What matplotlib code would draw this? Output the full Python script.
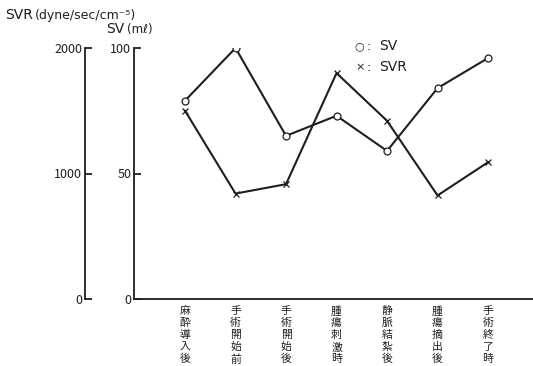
import matplotlib
matplotlib.use("Agg")
import matplotlib.pyplot as plt
from matplotlib.transforms import blended_transform_factory

plt.rcParams['font.family'] = ['Noto Sans CJK JP', 'DejaVu Sans']

categories = ["麻酔導入後", "手術開始前", "手術開始後", "腫瘍刺激時", "静脈結紮後", "腫瘍摘出後", "手術終了時"]
sv_values = [79, 100, 65, 73, 59, 84, 96]
svr_values = [1500, 840, 915, 1800, 1420, 825, 1090]
sv_ticks = [0, 50, 100]
svr_ticks = [0, 1000, 2000]

ink = "#1e1e1e"
W, H = 533, 366
fig = plt.figure(figsize=(W / 100, H / 100), dpi=100)
ax = fig.add_axes([134 / W, 67 / H, (W - 134) / W, 251 / H])
ax2 = ax.twinx()

x = list(range(len(categories)))
ax.plot(x, sv_values, color=ink, lw=1.5, marker="o", ms=5, mfc="white", mec=ink, mew=0.9, zorder=3)
ax2.plot(x, svr_values, color=ink, lw=1.5, marker="x", ms=4, mec=ink, mew=0.9, zorder=3)

ax.set_xlim(-1.01, 6.89)
ax.set_ylim(0, 100)
ax2.set_ylim(0, 2000)

for s in ["top", "right"]:
    ax.spines[s].set_visible(False)
for s in ["top", "right", "bottom"]:
    ax2.spines[s].set_visible(False)
ax2.spines["left"].set_visible(True)
ax2.spines["left"].set_position(("axes", (85 - 134) / (W - 134)))
ax2.yaxis.tick_left()
for a in (ax, ax2):
    for sp in a.spines.values():
        sp.set_color(ink)
        sp.set_linewidth(1.3)

ax.set_yticks(sv_ticks)
ax2.set_yticks(svr_ticks)
ax.tick_params(axis="y", direction="in", length=5, width=1.3, color=ink, labelsize=9, pad=2, labelcolor=ink)
ax2.tick_params(axis="y", direction="in", length=5, width=1.3, color=ink, labelsize=9, pad=2, labelcolor=ink)

# vertical category labels, one character per row
ax.set_xticks(x)
ax.set_xticklabels([])
ax.tick_params(axis="x", length=0)
trans = blended_transform_factory(ax.transData, fig.transFigure)
for i, label in enumerate(categories):
    for j, ch in enumerate(label):
        ax.text(i, 1 - (306 + 12 * j) / H, ch, transform=trans, fontsize=7.8,
                color=ink, ha="center", va="top", clip_on=False)

fig.text(5 / W, 1 - 19 / H, "SVR", fontsize=10, color=ink, family="DejaVu Sans")
fig.text(35 / W, 1 - 19 / H, "(dyne/sec/cm⁻⁵)", fontsize=9, color=ink, family="DejaVu Sans")
fig.text(106 / W, 1 - 33 / H, "SV", fontsize=10, color=ink, family="DejaVu Sans")
fig.text(127 / W, 1 - 33 / H, "(mℓ)", fontsize=8.5, color=ink, family="DejaVu Sans")

fig.text(354 / W, 1 - 49 / H, "○", fontsize=8, color=ink, family="DejaVu Sans")
fig.text(355 / W, 1 - 70 / H, "×", fontsize=8, color=ink, family="DejaVu Sans")
fig.text(367 / W, 1 - 50 / H, ":", fontsize=9, color=ink, family="DejaVu Sans")
fig.text(367 / W, 1 - 71 / H, ":", fontsize=9, color=ink, family="DejaVu Sans")
fig.text(379 / W, 1 - 50 / H, "SV", fontsize=10, color=ink, family="DejaVu Sans")
fig.text(379 / W, 1 - 71 / H, "SVR", fontsize=10, color=ink, family="DejaVu Sans")

fig.savefig("out.png", dpi=100)
